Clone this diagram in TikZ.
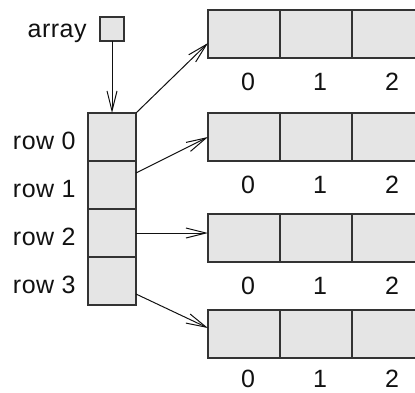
\documentclass[tikz,border=0pt]{standalone}
\usepackage{fontspec}
\setmainfont{Liberation Sans}[LetterSpace=2]
\usepackage{tikz}
\usetikzlibrary{arrows.meta,positioning}
\definecolor{cellbg}{HTML}{E5E5E5}
\definecolor{edge}{HTML}{333333}
\definecolor{ink}{HTML}{111111}

\begin{document}
\begin{tikzpicture}[
  x=0.5pt, y=-0.5pt,
  every node/.style={font=\fontsize{12.5}{14}\selectfont, text=ink},
  cell/.style={rectangle, draw=edge, fill=cellbg, line width=0.7pt, inner sep=0pt, outer sep=0pt, minimum width=24pt, minimum height=24pt},
  slot/.style={cell, minimum width=36pt},
  handle/.style={cell, minimum width=12pt, minimum height=12pt},
  lbl/.style={inner sep=0pt, anchor=base east},
  idx/.style={inner sep=0pt, anchor=base},
  arrow/.style={-{Straight Barb[length=10pt,width=5pt]}, line width=0.5pt, draw=ink}
]
\useasboundingbox (0,0) rectangle (415,392);

% the pointer and its label
\node[handle] (array) at (112,29) {};
\node[lbl] (arraylbl) at ([xshift=-6.5pt,yshift=-4pt]array.west) {array};

% column of row pointers
\node[cell] (row0) at (112,137) {};
\node[cell, below=0pt of row0] (row1) {};
\node[cell, below=0pt of row1] (row2) {};
\node[cell, below=0pt of row2] (row3) {};

\node[lbl] (lab0) at ([xshift=-6pt,yshift=-6pt]row0.west) {row 0};
\node[lbl] (lab1) at ([xshift=-6pt,yshift=-6pt]row1.west) {row 1};
\node[lbl] (lab2) at ([xshift=-6pt,yshift=-6pt]row2.west) {row 2};
\node[lbl] (lab3) at ([xshift=-6pt,yshift=-6pt]row3.west) {row 3};

% the four rows
\node[slot] (a0c0) at (244,34) {};
\node[slot, right=0pt of a0c0] (a0c1) {};
\node[slot, right=0pt of a0c1] (a0c2) {};
\node[slot] (a1c0) at (244,137) {};
\node[slot, right=0pt of a1c0] (a1c1) {};
\node[slot, right=0pt of a1c1] (a1c2) {};
\node[slot] (a2c0) at (244,238) {};
\node[slot, right=0pt of a2c0] (a2c1) {};
\node[slot, right=0pt of a2c1] (a2c2) {};
\node[slot] (a3c0) at (244,334) {};
\node[slot, right=0pt of a3c0] (a3c1) {};
\node[slot, right=0pt of a3c1] (a3c2) {};

% column indices
\node[idx] (i00) at ([xshift=2pt,yshift=-16pt]a0c0.south) {0};
\node[idx] (i01) at ([xshift=2pt,yshift=-16pt]a0c1.south) {1};
\node[idx] (i02) at ([xshift=2pt,yshift=-16pt]a0c2.south) {2};
\node[idx] (i10) at ([xshift=2pt,yshift=-16pt]a1c0.south) {0};
\node[idx] (i11) at ([xshift=2pt,yshift=-16pt]a1c1.south) {1};
\node[idx] (i12) at ([xshift=2pt,yshift=-16pt]a1c2.south) {2};
\node[idx] (i20) at ([xshift=2pt,yshift=-16pt]a2c0.south) {0};
\node[idx] (i21) at ([xshift=2pt,yshift=-16pt]a2c1.south) {1};
\node[idx] (i22) at ([xshift=2pt,yshift=-16pt]a2c2.south) {2};
\node[idx] (i30) at ([xshift=2pt,yshift=-14.5pt]a3c0.south) {0};
\node[idx] (i31) at ([xshift=2pt,yshift=-14.5pt]a3c1.south) {1};
\node[idx] (i32) at ([xshift=2pt,yshift=-14.5pt]a3c2.south) {2};

% pointers
\draw[arrow] (array.south) -- (row0.north);
\draw[arrow] (row0.north east) -- ([yshift=-4.5pt]a0c0.west);
\draw[arrow] ([yshift=-6pt]row1.north east) -- (a1c0.west);
\draw[arrow] (row2.east) -- ([yshift=2.5pt]a2c0.west);
\draw[arrow] ([yshift=-6.5pt]row3.east) -- ([yshift=3pt]a3c0.west);
\end{tikzpicture}
\end{document}
